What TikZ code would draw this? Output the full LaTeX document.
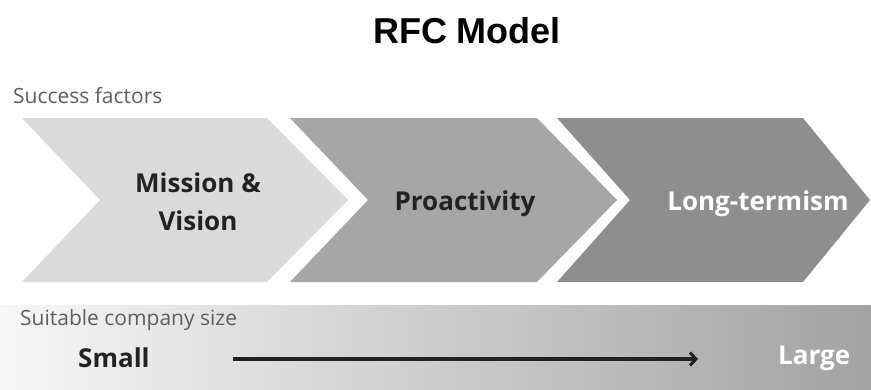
\documentclass[tikz,border=0pt]{standalone}
\usepackage{fontspec}
\setmainfont{Open Sans}
\newfontfamily\titlefont{Liberation Sans}
\usetikzlibrary{arrows.meta}
\definecolor{chevA}{HTML}{DADADA}
\definecolor{chevB}{HTML}{A6A6A6}
\definecolor{chevC}{HTML}{8E8E8E}
\definecolor{bandL}{HTML}{F7F7F7}
\definecolor{bandR}{HTML}{A2A2A2}
\definecolor{labgray}{HTML}{5E5E5E}
\definecolor{txtdark}{HTML}{222222}
\tikzset{
  lbl/.style={inner sep=0pt, anchor=base west, text=labgray, font=\fontsize{21}{25}\selectfont},
  chevtext/.style={inner sep=0pt, anchor=base, font=\bfseries\fontsize{26}{38}\selectfont},
  sizetext/.style={inner sep=0pt, anchor=base west, font=\bfseries\fontsize{26}{30}\selectfont},
  sizearrow/.style={line width=3.5pt, -{Straight Barb[length=6pt,width=13pt,line width=3pt]}}
}
\begin{document}
\begin{tikzpicture}[x=1pt,y=-1pt]
\useasboundingbox (0,0) rectangle (871,389);
% title
\node[inner sep=0pt, anchor=base, font=\titlefont\bfseries\fontsize{36}{40}\selectfont] (title) at (467,43) {RFC Model};
\node[lbl] (sf) at (13,103) {Success factors};
% chevrons
\fill[chevA] (22,118) -- (267,118) -- (348,200) -- (267,282) -- (22,282) -- (100,200) -- cycle;
\fill[chevB] (290,118) -- (537,118) -- (617,200) -- (537,282) -- (290,282) -- (368,200) -- cycle;
\fill[chevC] (557,118) -- (803,118) -- (870,200) -- (803,282) -- (557,282) -- (630,200) -- cycle;
\node[chevtext, text=txtdark, align=center] (mv) at (198,230) {Mission \&\\Vision};
\node[chevtext, text=txtdark] (pro) at (465,210) {Proactivity};
\node[chevtext, text=white] (lt) at (758,210) {Long-termism};
% band
\shade[left color=bandL, right color=bandR] (0,305) rectangle (871,389);
\node[lbl] (scs) at (20,325) {Suitable company size};
\node[sizetext, text=txtdark] (small) at (78,367) {Small};
\node[sizetext, text=white] (large) at (778,364) {Large};
\coordinate (arrs) at (233,359);
\coordinate (arre) at (698,359);
\draw[sizearrow, draw=txtdark] (arrs) -- (arre);
\end{tikzpicture}
\end{document}
